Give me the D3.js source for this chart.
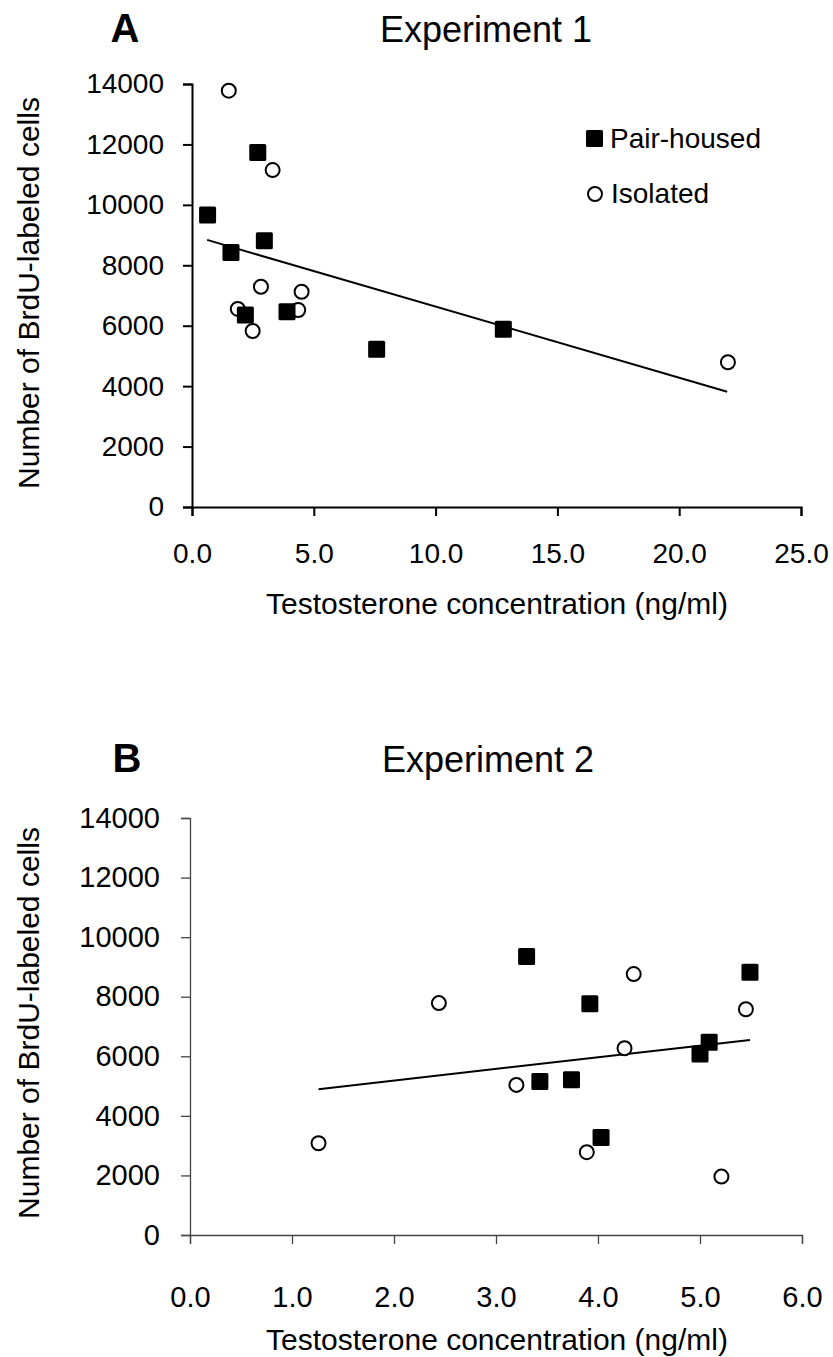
<!DOCTYPE html>
<html>
<head>
<meta charset="utf-8">
<script src="https://cdn.jsdelivr.net/npm/d3@7"></script>
<style>
  body { margin: 0; background: #fff; }
  svg { display: block; font-family: "Liberation Sans", Arial, sans-serif; }
</style>
</head>
<body>
<svg id="chart" width="833" height="1357"></svg>
<script>
// ---- Experiment 1 data ----
var exp1PairX = [0.64, 1.60, 2.19, 2.70, 2.97, 3.90, 7.58, 12.78];
var exp1PairY = [9665, 8420, 6355, 11730, 8815, 6465, 5220, 5880];
var exp1IsoX = [1.51, 1.88, 2.49, 2.83, 3.31, 4.36, 4.50, 22.0];
var exp1IsoY = [13780, 6555, 5825, 7290, 11150, 6520, 7125, 4790];
var exp1TrendX = [0.62, 21.97];
var exp1TrendY = [8840, 3815];
var exp1XTicks = [0, 5, 10, 15, 20, 25];

// ---- Experiment 2 data ----
var exp2PairX = [3.30, 3.43, 3.74, 3.92, 4.03, 5.00, 5.09, 5.49];
var exp2PairY = [9350, 5150, 5210, 7760, 3270, 6080, 6475, 8825];
var exp2IsoX = [1.26, 2.44, 3.20, 3.89, 4.26, 4.35, 5.21, 5.45];
var exp2IsoY = [3080, 7785, 5040, 2780, 6270, 8760, 1960, 7580];
var exp2TrendX = [1.26, 5.49];
var exp2TrendY = [4895, 6550];
var exp2XTicks = [0, 1, 2, 3, 4, 5, 6];

var yTicks = [0, 2000, 4000, 6000, 8000, 10000, 12000, 14000];

var svg = d3.select("#chart");

function zip(xs, ys) {
    return xs.map(function(x, i) { return { x: x, y: ys[i] }; });
}

function drawPanel(p) {
    var g = svg.append("g");
    var x = d3.scaleLinear().domain(p.xDomain).range(p.xRange);
    var y = d3.scaleLinear().domain([0, 14000]).range(p.yRange);

    // axes
    var yAxis = d3.axisLeft(y).tickValues(yTicks).tickSize(9)
                  .tickPadding(p.yPad).tickFormat(d3.format("d"));
    var xAxis = d3.axisBottom(x).tickValues(p.xTicks).tickSize(9)
                  .tickPadding(p.xPad).tickFormat(d3.format(".1f"));

    var ya = g.append("g").attr("transform", "translate(" + p.xRange[0] + ",0)").call(yAxis);
    var xa = g.append("g").attr("transform", "translate(0," + p.yRange[0] + ")").call(xAxis);

    [ya, xa].forEach(function(a) {
        a.select(".domain").attr("stroke", p.axisColor).attr("stroke-width", p.axisWidth);
        a.selectAll(".tick line").attr("stroke", p.axisColor).attr("stroke-width", p.axisWidth);
        a.selectAll("text").attr("fill", "#000").style("font-size", p.tickFont + "px")
         .style("font-family", "'Liberation Sans', Arial, sans-serif");
    });

    // trend line
    var line = d3.line().x(function(d) { return x(d.x); }).y(function(d) { return y(d.y); });
    g.append("path")
     .datum(zip(p.trendX, p.trendY))
     .attr("d", line)
     .attr("fill", "none")
     .attr("stroke", "#000")
     .attr("stroke-width", 2);

    // isolated: open circles
    g.selectAll(".iso").data(zip(p.isoX, p.isoY)).enter().append("circle")
     .attr("class", "iso")
     .attr("cx", function(d) { return x(d.x); })
     .attr("cy", function(d) { return y(d.y); })
     .attr("r", 7)
     .attr("fill", "#fff")
     .attr("stroke", "#000")
     .attr("stroke-width", 2);

    // pair-housed: filled squares
    g.selectAll(".pair").data(zip(p.pairX, p.pairY)).enter().append("rect")
     .attr("class", "pair")
     .attr("x", function(d) { return x(d.x) - 8.5; })
     .attr("y", function(d) { return y(d.y) - 8.5; })
     .attr("width", 17)
     .attr("height", 17)
     .attr("rx", 1.5)
     .attr("fill", "#000");

    // labels
    g.append("text").attr("x", p.letterX).attr("y", p.titleY)
     .attr("text-anchor", "middle").style("font-size", "40px").style("font-weight", "bold")
     .text(p.letter);
    g.append("text").attr("x", p.titleX).attr("y", p.titleY)
     .attr("text-anchor", "middle").style("font-size", "36px")
     .text(p.title);
    g.append("text").attr("x", 497).attr("y", p.xTitleY)
     .attr("text-anchor", "middle").style("font-size", "30px")
     .text("Testosterone concentration (ng/ml)");
    g.append("text")
     .attr("transform", "translate(39," + p.yTitleC + ") rotate(-90)")
     .attr("text-anchor", "middle").style("font-size", "30px")
     .text("Number of BrdU-labeled cells");
    return g;
}

drawPanel({
    xDomain: [0, 25], xRange: [192, 801], yRange: [507, 84],
    xTicks: exp1XTicks, xPad: 27, yPad: 19, tickFont: 28,
    axisColor: "#000", axisWidth: 2,
    pairX: exp1PairX, pairY: exp1PairY, isoX: exp1IsoX, isoY: exp1IsoY,
    trendX: exp1TrendX, trendY: exp1TrendY,
    letter: "A", letterX: 125, title: "Experiment 1", titleX: 486, titleY: 42,
    xTitleY: 614, yTitleC: 293
});

drawPanel({
    xDomain: [0, 6], xRange: [190, 802], yRange: [1235, 818],
    xTicks: exp2XTicks, xPad: 42, yPad: 21, tickFont: 29,
    axisColor: "#444", axisWidth: 1.3,
    pairX: exp2PairX, pairY: exp2PairY, isoX: exp2IsoX, isoY: exp2IsoY,
    trendX: exp2TrendX, trendY: exp2TrendY,
    letter: "B", letterX: 127, title: "Experiment 2", titleX: 488, titleY: 772,
    xTitleY: 1350, yTitleC: 1023
});

// legend (panel A)
var legend = svg.append("g");
legend.append("rect").attr("x", 586).attr("y", 130).attr("width", 17).attr("height", 17)
      .attr("rx", 1.5).attr("fill", "#000");
legend.append("text").attr("x", 610).attr("y", 148).style("font-size", "28px").text("Pair-housed");
legend.append("circle").attr("cx", 595).attr("cy", 194).attr("r", 7)
      .attr("fill", "#fff").attr("stroke", "#000").attr("stroke-width", 2);
legend.append("text").attr("x", 611).attr("y", 203).style("font-size", "28px").text("Isolated");
</script>
</body>
</html>
